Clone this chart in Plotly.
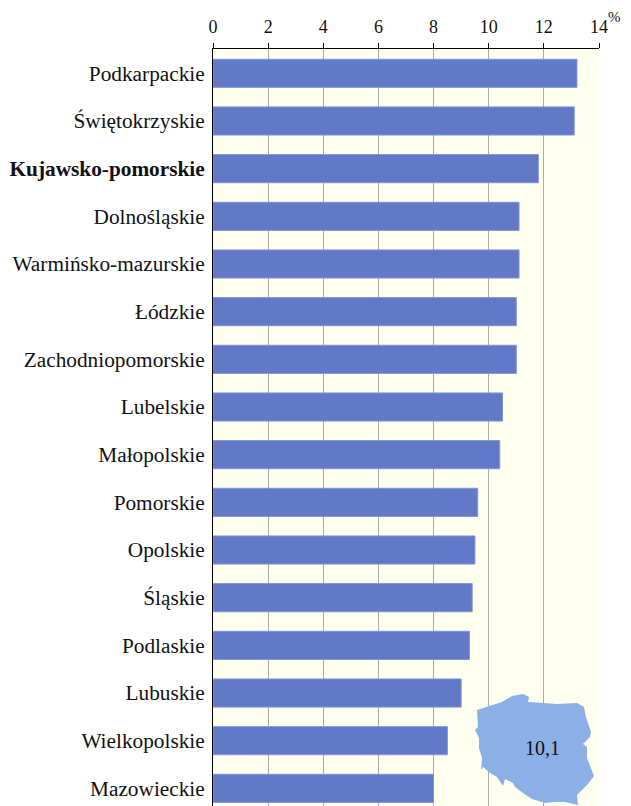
import plotly.graph_objects as go

regions = ["Podkarpackie", "Świętokrzyskie", "<b>Kujawsko-pomorskie</b>", "Dolnośląskie",
           "Warmińsko-mazurskie", "Łódzkie", "Zachodniopomorskie", "Lubelskie", "Małopolskie",
           "Pomorskie", "Opolskie", "Śląskie", "Podlaskie", "Lubuskie", "Wielkopolskie", "Mazowieckie"]
values = [13.2, 13.1, 11.8, 11.1, 11.1, 11.0, 11.0, 10.5, 10.4, 9.6, 9.5, 9.4, 9.3, 9.0, 8.5, 8.0]
national_label = "10,1"

# Decorative map of Poland, outline in page pixels
map_x = [477, 502, 512, 523, 529, 528, 543, 557, 577, 584, 586, 591, 590, 583, 587, 587, 594, 587, 577, 578,
         565, 555, 545, 532, 523, 515, 513, 505, 503, 497, 490, 483, 481, 482, 479, 479, 475, 478]
map_y = [710, 702, 696, 694, 697, 702, 703, 704, 703, 707, 717, 732, 737, 744, 747, 758, 776, 785, 795, 805,
         802, 802, 803, 799, 793, 787, 783, 779, 786, 777, 773, 767, 770, 758, 748, 738, 730, 727]

L, T, W, H = 213, 48.5, 386, 757.5
path = "M " + " L ".join(f"{(x - L) / W:.4f},{1 - (y - T) / H:.4f}" for x, y in zip(map_x, map_y)) + " Z"

ink = "#111111"
serif = "Liberation Serif"

fig = go.Figure(go.Bar(
    y=regions, x=values, orientation="h", width=0.59,
    marker=dict(color="#6279C8", line=dict(color="#8094D6", width=1)),
))
# The page body adds an 8px margin, so the figure is 8px smaller on each axis
fig.update_layout(
    width=623, height=798, showlegend=False, bargap=0.4,
    paper_bgcolor="white", plot_bgcolor="#FFFFF0", font=dict(family=serif, size=21, color=ink),
    margin=dict(l=205, r=32, t=40.5, b=0),
    xaxis=dict(side="top", range=[0, 14], dtick=2, showgrid=True, gridcolor="#ABABAB", gridwidth=1,
               ticks="outside", ticklen=5, tickcolor="black", showline=True, linecolor="black", linewidth=1,
               zeroline=False, tickfont=dict(family=serif, size=18, color=ink), ticklabelstandoff=3),
    yaxis=dict(type="category", categoryorder="array", categoryarray=regions,
               range=[15.37, -0.51], showgrid=False, showline=True, linecolor="black", linewidth=1,
               ticks="", tickfont=dict(family=serif, size=21.3, color=ink), ticklabelstandoff=3),
    shapes=[dict(type="path", xref="paper", yref="paper", path=path, fillcolor="#8CAFE6",
                 line=dict(width=0), layer="above")],
    annotations=[
        dict(text="%", xref="paper", yref="paper", x=(614 - L) / W, y=1 - (16 - T) / H, showarrow=False,
             xanchor="center", yanchor="middle", font=dict(family=serif, size=15, color=ink)),
        dict(text=national_label, xref="paper", yref="paper", x=(542 - L) / W, y=1 - (748 - T) / H,
             showarrow=False, xanchor="center", yanchor="middle", font=dict(family=serif, size=20, color=ink)),
    ],
)
fig.write_html("out.html", post_script="document.documentElement.style.overflow='hidden';")
